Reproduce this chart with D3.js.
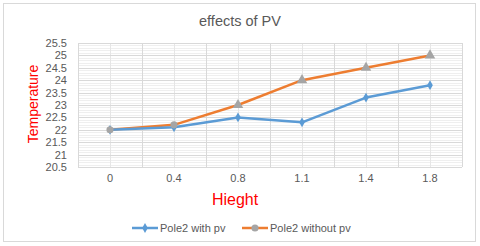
<!DOCTYPE html>
<html>
<head>
<meta charset="utf-8">
<script src="https://cdn.jsdelivr.net/npm/d3@7"></script>
<style>
  body { margin: 0; background: #fff; }
  text { font-family: "Liberation Sans", Arial, sans-serif; }
</style>
</head>
<body>
<div id="chart"></div>
<script>
// chart data
var heights = ["0", "0.4", "0.8", "1.1", "1.4", "1.8"];
var withPv = [22, 22.1, 22.5, 22.3, 23.3, 23.8];
var withoutPv = [22, 22.2, 23, 24, 24.5, 25];
var yTicks = [20.5, 21, 21.5, 22, 22.5, 23, 23.5, 24, 24.5, 25, 25.5];
var seriesNames = ["Pole2 with pv", "Pole2 without pv"];

var W = 480, H = 246;
var margin = {top: 43, right: 18, bottom: 79, left: 78},
    width = W - margin.left - margin.right,
    height = H - margin.top - margin.bottom;

var svg = d3.select("#chart")
  .append("svg")
    .attr("width", W)
    .attr("height", H);

// outer chart border
svg.append("rect")
  .attr("x", 3.5).attr("y", 3.5)
  .attr("width", 472).attr("height", 238)
  .attr("fill", "#fff")
  .attr("stroke", "#d9d9d9");

var x = d3.scaleBand().domain(heights).range([0, width]).padding(0);
var y = d3.scaleLinear().domain([20.5, 25.5]).range([height, 0]);

var g = svg.append("g")
  .attr("transform", "translate(" + margin.left + "," + margin.top + ")");

// minor horizontal gridlines every 0.1
var minor = d3.range(205, 256).map(function(d) { return d / 10; });
g.append("g").selectAll("line")
  .data(minor)
  .join("line")
    .attr("x1", 0).attr("x2", width)
    .attr("y1", function(d) { return Math.round(y(d)) + 0.5; })
    .attr("y2", function(d) { return Math.round(y(d)) + 0.5; })
    .attr("stroke", "#efefef");

// vertical gridlines at category centers and boundaries
g.append("g").selectAll("line")
  .data(heights)
  .join("line")
    .attr("x1", function(d) { return Math.round(x(d) + x.bandwidth() / 2) + 0.5; })
    .attr("x2", function(d) { return Math.round(x(d) + x.bandwidth() / 2) + 0.5; })
    .attr("y1", 0).attr("y2", height)
    .attr("stroke", "#e6e6e6");

var bounds = heights.map(function(d) { return x(d); }).concat([width]);
g.append("g").selectAll("line")
  .data(bounds)
  .join("line")
    .attr("x1", function(d) { return Math.round(d) + 0.5; })
    .attr("x2", function(d) { return Math.round(d) + 0.5; })
    .attr("y1", 0).attr("y2", height)
    .attr("stroke", "#d9d9d9");

// major horizontal gridlines
g.append("g").selectAll("line")
  .data(yTicks)
  .join("line")
    .attr("x1", 0).attr("x2", width)
    .attr("y1", function(d) { return Math.round(y(d)) + 0.5; })
    .attr("y2", function(d) { return Math.round(y(d)) + 0.5; })
    .attr("stroke", "#d9d9d9");

// y axis labels
var yAxis = d3.axisLeft(y).tickValues(yTicks).tickSize(0).tickPadding(11)
  .tickFormat(function(d) { return d; });
g.append("g")
  .call(yAxis)
  .call(function(s) { s.select(".domain").remove(); })
  .selectAll("text")
    .attr("fill", "#595959")
    .style("font-size", "11px");

// x axis labels
var xAxis = d3.axisBottom(x).tickSize(0).tickPadding(7);
g.append("g")
  .attr("transform", "translate(0," + height + ")")
  .call(xAxis)
  .call(function(s) { s.select(".domain").remove(); })
  .selectAll("text")
    .attr("fill", "#595959")
    .style("font-size", "11px");

var cx = function(d, i) { return x(heights[i]) + x.bandwidth() / 2; };
var line = d3.line()
  .x(function(d, i) { return cx(d, i); })
  .y(function(d) { return y(d); });

// orange series
g.append("path")
  .datum(withoutPv)
  .attr("fill", "none")
  .attr("stroke", "#ED7D31")
  .attr("stroke-width", 2.5)
  .attr("stroke-linejoin", "round")
  .attr("d", line);

// blue series
g.append("path")
  .datum(withPv)
  .attr("fill", "none")
  .attr("stroke", "#5B9BD5")
  .attr("stroke-width", 2.5)
  .attr("stroke-linejoin", "round")
  .attr("d", line);

// blue diamonds
g.append("g").selectAll("path")
  .data(withPv)
  .join("path")
    .attr("transform", function(d, i) { return "translate(" + cx(d, i) + "," + y(d) + ")"; })
    .attr("d", d3.symbol(d3.symbolDiamond, 28))
    .attr("fill", "#5B9BD5");

// gray markers on orange series
g.append("g").selectAll("path")
  .data(withoutPv)
  .join("path")
    .attr("transform", function(d, i) { return "translate(" + cx(d, i) + "," + y(d) + ")"; })
    .attr("d", function(d, i) {
      return i < 2 ? d3.symbol(d3.symbolCircle, 40)() : d3.symbol(d3.symbolTriangle, 48)();
    })
    .attr("fill", "#A5A5A5");

// title
svg.append("text")
  .attr("x", 240).attr("y", 26)
  .attr("text-anchor", "middle")
  .attr("fill", "#595959")
  .style("font-size", "14.5px")
  .text("effects of PV");

// axis titles
svg.append("text")
  .attr("transform", "translate(38," + (margin.top + height / 2 - 1) + ") rotate(-90)")
  .attr("text-anchor", "middle")
  .attr("fill", "#FF0000")
  .style("font-size", "14px")
  .text("Temperature");

svg.append("text")
  .attr("x", 235).attr("y", 205)
  .attr("text-anchor", "middle")
  .attr("fill", "#FF0000")
  .style("font-size", "16px")
  .text("Hieght");

// legend
var legend = svg.append("g").attr("transform", "translate(132,228)");
var colors = ["#5B9BD5", "#ED7D31"];
var offsets = [0, 110];
seriesNames.forEach(function(name, i) {
  var lg = legend.append("g").attr("transform", "translate(" + offsets[i] + ",0)");
  lg.append("line")
    .attr("x1", 0).attr("x2", 26).attr("y1", 0).attr("y2", 0)
    .attr("stroke", colors[i]).attr("stroke-width", 2.5);
  lg.append("path")
    .attr("transform", "translate(13,0)")
    .attr("d", i === 0 ? d3.symbol(d3.symbolDiamond, 28)() : d3.symbol(d3.symbolCircle, 40)())
    .attr("fill", i === 0 ? "#5B9BD5" : "#A5A5A5");
  lg.append("text")
    .attr("x", 28).attr("y", 4)
    .attr("fill", "#595959")
    .style("font-size", "11px")
    .text(name);
});
</script>
</body>
</html>
